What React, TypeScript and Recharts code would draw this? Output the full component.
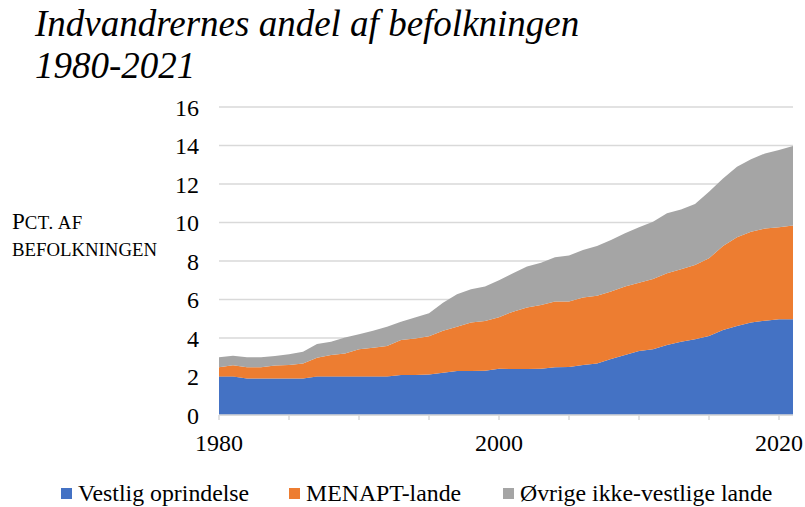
import { AreaChart, Area, XAxis, YAxis, CartesianGrid } from "recharts";

// Years 1980-2021
const YEARS = [
  1980, 1981, 1982, 1983, 1984, 1985, 1986, 1987, 1988, 1989, 1990, 1991, 1992, 1993,
  1994, 1995, 1996, 1997, 1998, 1999, 2000, 2001, 2002, 2003, 2004, 2005, 2006, 2007,
  2008, 2009, 2010, 2011, 2012, 2013, 2014, 2015, 2016, 2017, 2018, 2019, 2020, 2021,
];

// Pct. of population, by origin
const VESTLIG = [
  2.0, 2.0, 1.9, 1.9, 1.9, 1.9, 1.9, 2.0, 2.0, 2.0, 2.0, 2.0, 2.0, 2.08,
  2.08, 2.1, 2.2, 2.28, 2.28, 2.3, 2.4, 2.39, 2.39, 2.4, 2.48, 2.5, 2.6, 2.68,
  2.91, 3.12, 3.32, 3.41, 3.64, 3.81, 3.93, 4.1, 4.42, 4.62, 4.81, 4.9, 4.97, 4.97,
];
const MENAPT = [
  0.48, 0.58, 0.58, 0.58, 0.67, 0.7, 0.78, 0.98, 1.12, 1.2, 1.41, 1.5, 1.58, 1.82,
  1.9, 1.99, 2.18, 2.31, 2.52, 2.58, 2.68, 2.98, 3.2, 3.31, 3.41, 3.39, 3.51, 3.52,
  3.5, 3.55, 3.55, 3.65, 3.72, 3.76, 3.86, 4.04, 4.36, 4.61, 4.71, 4.79, 4.78, 4.87,
];
const OVRIGE = [
  0.52, 0.5, 0.52, 0.52, 0.49, 0.55, 0.61, 0.71, 0.69, 0.82, 0.78, 0.88, 1.01, 0.95,
  1.09, 1.19, 1.45, 1.68, 1.73, 1.79, 1.92, 1.99, 2.12, 2.2, 2.3, 2.39, 2.46, 2.58,
  2.68, 2.77, 2.88, 2.98, 3.12, 3.11, 3.17, 3.46, 3.51, 3.67, 3.76, 3.9, 4.02, 4.13,
];

const Y_TICKS = [0, 2, 4, 6, 8, 10, 12, 14, 16];
const X_TICKS = [1980, 1985, 1990, 1995, 2000, 2005, 2010, 2015, 2020];
const X_LABELED = [1980, 2000, 2020];

const SERIES = [
  { key: "vestlig", name: "Vestlig oprindelse", color: "#4472C4" },
  { key: "menapt", name: "MENAPT-lande", color: "#ED7D31" },
  { key: "ovrige", name: "Øvrige ikke-vestlige lande", color: "#A5A5A5" },
];

// left edge of each legend swatch
const LEGEND_X = [61, 289, 503];

const data = YEARS.map((year, i) => ({
  year,
  vestlig: VESTLIG[i],
  menapt: MENAPT[i],
  ovrige: OVRIGE[i],
}));

const FONT = '"Liberation Serif", "Times New Roman", serif';
const GRID = "#D9D9D9";

export default function App() {
  return (
    <div
      style={{
        position: "absolute",
        left: 0,
        top: 0,
        width: 805,
        height: 507,
        background: "#fff",
        fontFamily: FONT,
        color: "#000",
      }}
    >
      <AreaChart
        width={805}
        height={507}
        data={data}
        margin={{ top: 107, right: 12, bottom: 52, left: 0 }}
      >
        <CartesianGrid vertical={false} stroke={GRID} strokeWidth={1.5} />
        <XAxis
          dataKey="year"
          type="number"
          domain={[1980, 2021]}
          ticks={X_TICKS}
          interval={0}
          height={40}
          stroke={GRID}
          strokeWidth={1.5}
          tickSize={5}
          tickMargin={14}
          tick={{ fill: "#000", fontSize: 24, fontFamily: FONT }}
          tickFormatter={(v: number) => (X_LABELED.includes(v) ? String(v) : "")}
        />
        <YAxis
          width={219}
          domain={[0, 16]}
          ticks={Y_TICKS}
          interval={0}
          axisLine={false}
          tickLine={false}
          tickMargin={14}
          tick={{ fill: "#000", fontSize: 24, fontFamily: FONT }}
        />
        {SERIES.map((s) => (
          <Area
            key={s.key}
            dataKey={s.key}
            name={s.name}
            stackId="a"
            type="linear"
            stroke="none"
            fill={s.color}
            fillOpacity={1}
            isAnimationActive={false}
          />
        ))}
      </AreaChart>

      {/* Title */}
      <div
        style={{
          position: "absolute",
          left: 35,
          top: 3,
          fontSize: 37,
          fontStyle: "italic",
          lineHeight: "42px",
          whiteSpace: "nowrap",
        }}
      >
        Indvandrernes andel af befolkningen
        <br />
        1980-2021
      </div>

      {/* Y axis label, small caps */}
      <div
        style={{ position: "absolute", left: 12, top: 209, fontSize: 23, lineHeight: "26px", whiteSpace: "nowrap" }}
      >
        P<span style={{ fontSize: 18.8, letterSpacing: 0.5 }}>CT. AF</span>
      </div>
      <div
        style={{ position: "absolute", left: 12, top: 237, fontSize: 18.8, lineHeight: "26px", whiteSpace: "nowrap" }}
      >
        BEFOLKNINGEN
      </div>

      {/* Legend */}
      {SERIES.map((s, i) => (
        <div
          key={s.key}
          style={{
            position: "absolute",
            left: LEGEND_X[i],
            top: 480,
            display: "flex",
            alignItems: "center",
            fontSize: 23.8,
            whiteSpace: "nowrap",
          }}
        >
          <span
            style={{ width: 11, height: 11, background: s.color, marginRight: 6, display: "inline-block" }}
          />
          <span>{s.name}</span>
        </div>
      ))}
    </div>
  );
}
